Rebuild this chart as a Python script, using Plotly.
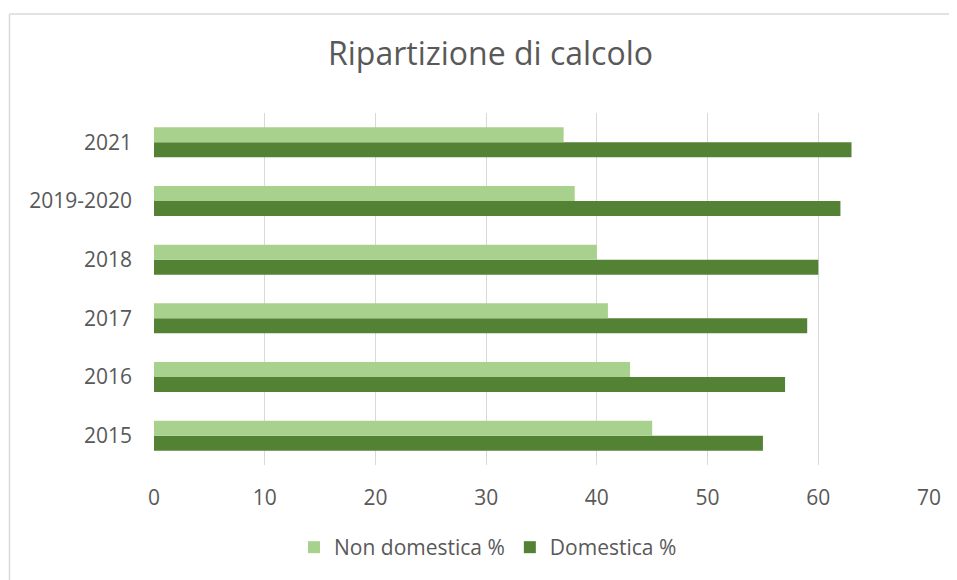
import plotly.graph_objects as go

categories = ["2015", "2016", "2017", "2018", "2019-2020", "2021"]
non_domestica = [45, 43, 41, 40, 38, 37]
domestica = [55, 57, 59, 60, 62, 63]
x_ticks = [0, 10, 20, 30, 40, 50, 60, 70]

LIGHT = "#A9D18E"
DARK = "#548235"
TXT = "#595959"
GRID = "#D9D9D9"
FONT = "Open Sans"

# page body has an 8px margin; figure coordinates are reference pixels minus 8
OFF = 8
W, H = 957 - OFF, 580 - OFF
L, R, T, B = 154 - OFF, W - (929 - OFF), 113 - OFF, H - (467 - OFF)
pw, ph = W - L - R, H - T - B

def px2x(p):
    return (p - OFF - L) / pw

def py2y(p):
    return (H - B - (p - OFF)) / ph

fig = go.Figure()
fig.add_trace(go.Bar(y=categories, x=domestica, orientation="h", name="Domestica %",
                     marker=dict(color=DARK, line=dict(width=0)), legendrank=2))
fig.add_trace(go.Bar(y=categories, x=non_domestica, orientation="h", name="Non domestica %",
                     marker=dict(color=LIGHT, line=dict(width=0)), legendrank=1))

border = dict(color=GRID, width=1.5)
fig.update_layout(
    width=W, height=H,
    margin=dict(l=L, r=R, t=T, b=B),
    paper_bgcolor="white", plot_bgcolor="white",
    barmode="group", bargap=0.49, bargroupgap=0,
    font=dict(family=FONT, size=21, color=TXT),
    title=dict(text="Ripartizione di calcolo", x=(490.5 - OFF) / W, xanchor="center",
               xref="container", yref="container", y=1 - (54 - OFF) / H, yanchor="middle",
               font=dict(family=FONT, size=32, color=TXT)),
    showlegend=True,
    legend=dict(orientation="h", x=px2x(488), xanchor="center", y=py2y(550), yanchor="middle",
                font=dict(family=FONT, size=21, color=TXT), itemwidth=30,
                tracegroupgap=0, bgcolor="rgba(0,0,0,0)"),
    xaxis=dict(range=[0, 70], tickvals=x_ticks, showgrid=True, gridcolor=GRID, gridwidth=1,
               zeroline=False, showline=False, ticks="", ticklabelstandoff=18,
               tickfont=dict(family=FONT, size=21, color=TXT), fixedrange=True),
    yaxis=dict(categoryorder="array", categoryarray=categories, showgrid=False,
               zeroline=False, showline=False, ticks="", ticklabelstandoff=21,
               tickfont=dict(family=FONT, size=21, color=TXT), fixedrange=True),
    shapes=[
        dict(type="line", xref="paper", yref="paper",
             x0=px2x(9.5), x1=px2x(9.5), y0=py2y(13.5), y1=py2y(640), line=border, layer="below"),
        dict(type="line", xref="paper", yref="paper",
             x0=px2x(9.5), x1=px2x(1000), y0=py2y(13.5), y1=py2y(13.5), line=border, layer="below"),
    ],
)

fig.write_html("out.html")
